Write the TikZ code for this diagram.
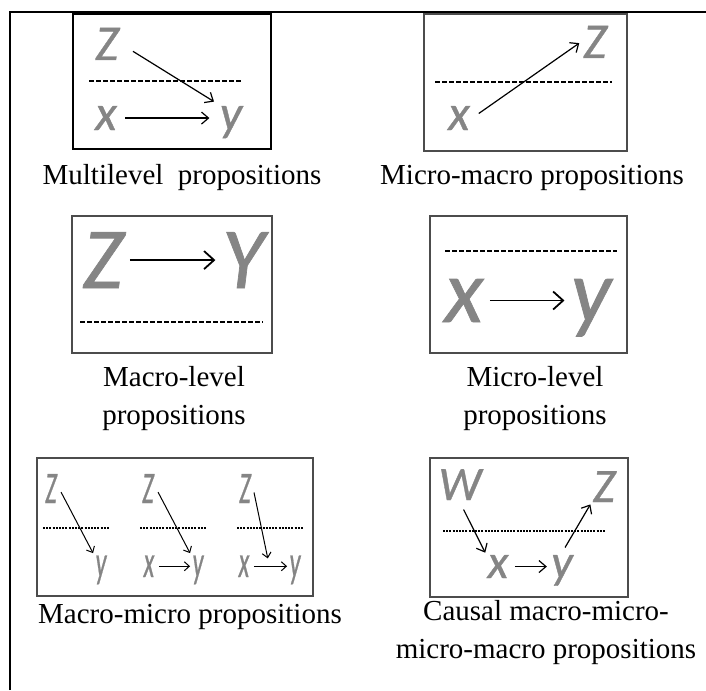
\documentclass[tikz,border=0pt]{standalone}
\usepackage{fontspec}
\setmainfont{Liberation Serif}
\newfontfamily\letterfont{Carlito}[FakeBold=0.8]
\usepackage{graphicx}
\usetikzlibrary{arrows.meta,positioning}
\definecolor{lettergray}{gray}{0.52}
\definecolor{boxgray}{gray}{0.3}
\newcommand{\narrowletter}[1]{\scalebox{0.55}[1]{#1}}

\tikzset{
  letter/.style={text=lettergray, inner sep=1pt, anchor=base,
    font=\letterfont\itshape\fontsize{#1}{#1}\selectfont},
  arr/.style={-{Straight Barb[length=3.5pt,width=6pt]}, line width=0.6pt},
  bigarr/.style={-{Straight Barb[length=5pt,width=9pt]}, line width=0.9pt},
  smallarr/.style={-{Straight Barb[length=2.5pt,width=4.5pt]}, line width=0.5pt},
  levelline/.style={line width=0.6pt, dash pattern=on 2.5pt off 1pt},
  finelevelline/.style={line width=0.6pt, dash pattern=on 1pt off 0.6pt},
  panel/.style={draw=boxgray, line width=0.6pt},
  caption/.style={font=\fontsize{14.5}{19}\selectfont, align=center},
}

\begin{document}
\begin{tikzpicture}[x=0.5pt, y=-0.5pt]
  \useasboundingbox (0,0) rectangle (706,690);
  \draw[line width=1pt] (10,690) -- (10,12) -- (706,12);

  % Multilevel
  \draw[line width=1.25pt] (73,14) rectangle (271,149);
  \node[letter=25] (zA) at (107,60) {Z};
  \node[letter=25] (xA) at (106,130) {x};
  \node[letter=25] (yA) at (231,130) {y};
  \draw[levelline] (89,81) -- (243,81);
  \draw[arr, shorten <=3pt, shorten >=4pt] (xA.east) -- (xA.east -| yA.west);
  \draw[arr, shorten <=7pt, shorten >=2pt] (zA.east) -- (yA.north west);
  \node[caption] (capA) at (182,178) {Multilevel\ \ propositions};

  % Micro-macro
  \draw[panel] (424,14) rectangle (627,151);
  \node[letter=25] (zB) at (595,58) {Z};
  \node[letter=25] (xB) at (459,130) {x};
  \draw[levelline] (435,82) -- (612,82);
  \draw[arr, shorten <=4pt, shorten >=1pt] (xB.east) -- (zB.west);
  \node[caption] (capB) at (532,178) {Micro-macro propositions};

  % Macro-level
  \draw[panel] (72,216) rectangle (272,353);
  \node[letter=43.5] (zC) at (103,288) {Z};
  \node[letter=43.5] (yC) at (243,288) {Y};
  \draw[levelline] (80,322) -- (263,322);
  \draw[bigarr, shorten <=2pt, shorten >=2pt] (zC.east) -- (zC.east -| yC.west);
  \node[caption] (capC) at (174,399) {Macro-level\\propositions};

  % Micro-level
  \draw[panel] (430,216) rectangle (627,353);
  \node[letter=45] (xD) at (464,322) {x};
  \node[letter=45] (yD) at (591,322) {y};
  \draw[levelline] (445,251) -- (617,251);
  \draw[bigarr, shorten <=2pt, shorten >=2pt] (xD.east) -- (xD.east -| yD.west);
  \node[caption] (capD) at (535,399) {Micro-level\\propositions};

  % Macro-micro, three small cases
  \draw[panel] (37,458) rectangle (313,596);
  \foreach \i/\dx in {1/0,2/97,3/194} {
    \node[letter=22.5] (zE\i) at (51+\dx,503) {\narrowletter{Z}};
    \node[letter=22.5] (yE\i) at (101+\dx,577) {\narrowletter{y}};
    \draw[finelevelline] (43+\dx,528) -- (109+\dx,528);
  }
  \node[letter=22.5] (xE2) at (149,577) {\narrowletter{x}};
  \node[letter=22.5] (xE3) at (244,577) {\narrowletter{x}};
  \draw[smallarr, shorten <=2pt] (zE1.east) -- (yE1.north west);
  \draw[smallarr, shorten <=2pt] (zE2.east) -- (yE2.north west);
  \draw[smallarr, shorten <=1pt] (xE2.east) -- (xE2.east -| yE2.west);
  \draw[smallarr, shorten <=1pt] (xE3.east) -- (xE3.east -| yE3.west) coordinate[midway] (mE3);
  \draw[smallarr, shorten <=2pt, shorten >=4pt] (zE3.east) -- (mE3);
  \node[caption] (capE) at (190,617) {Macro-micro propositions};

  % Causal chain
  \draw[panel] (430,458) rectangle (628,597);
  \node[letter=24] (wF) at (460,500) {W};
  \node[letter=24] (zF) at (604,502) {Z};
  \node[letter=24] (xF) at (498,578) {x};
  \node[letter=24] (yF) at (562,578) {y};
  \draw[finelevelline] (443,531) -- (605,531);
  \draw[arr, shorten <=4pt] (wF.south) -- (xF.north west);
  \draw[arr, shorten <=2pt, shorten >=1pt] (xF.east) -- (xF.east -| yF.west);
  \draw[arr, shorten <=3pt] (yF.north) -- (zF.south west);
  \node[caption] (capF) at (546,633) {Causal macro-micro-\\micro-macro propositions};
\end{tikzpicture}
\end{document}
